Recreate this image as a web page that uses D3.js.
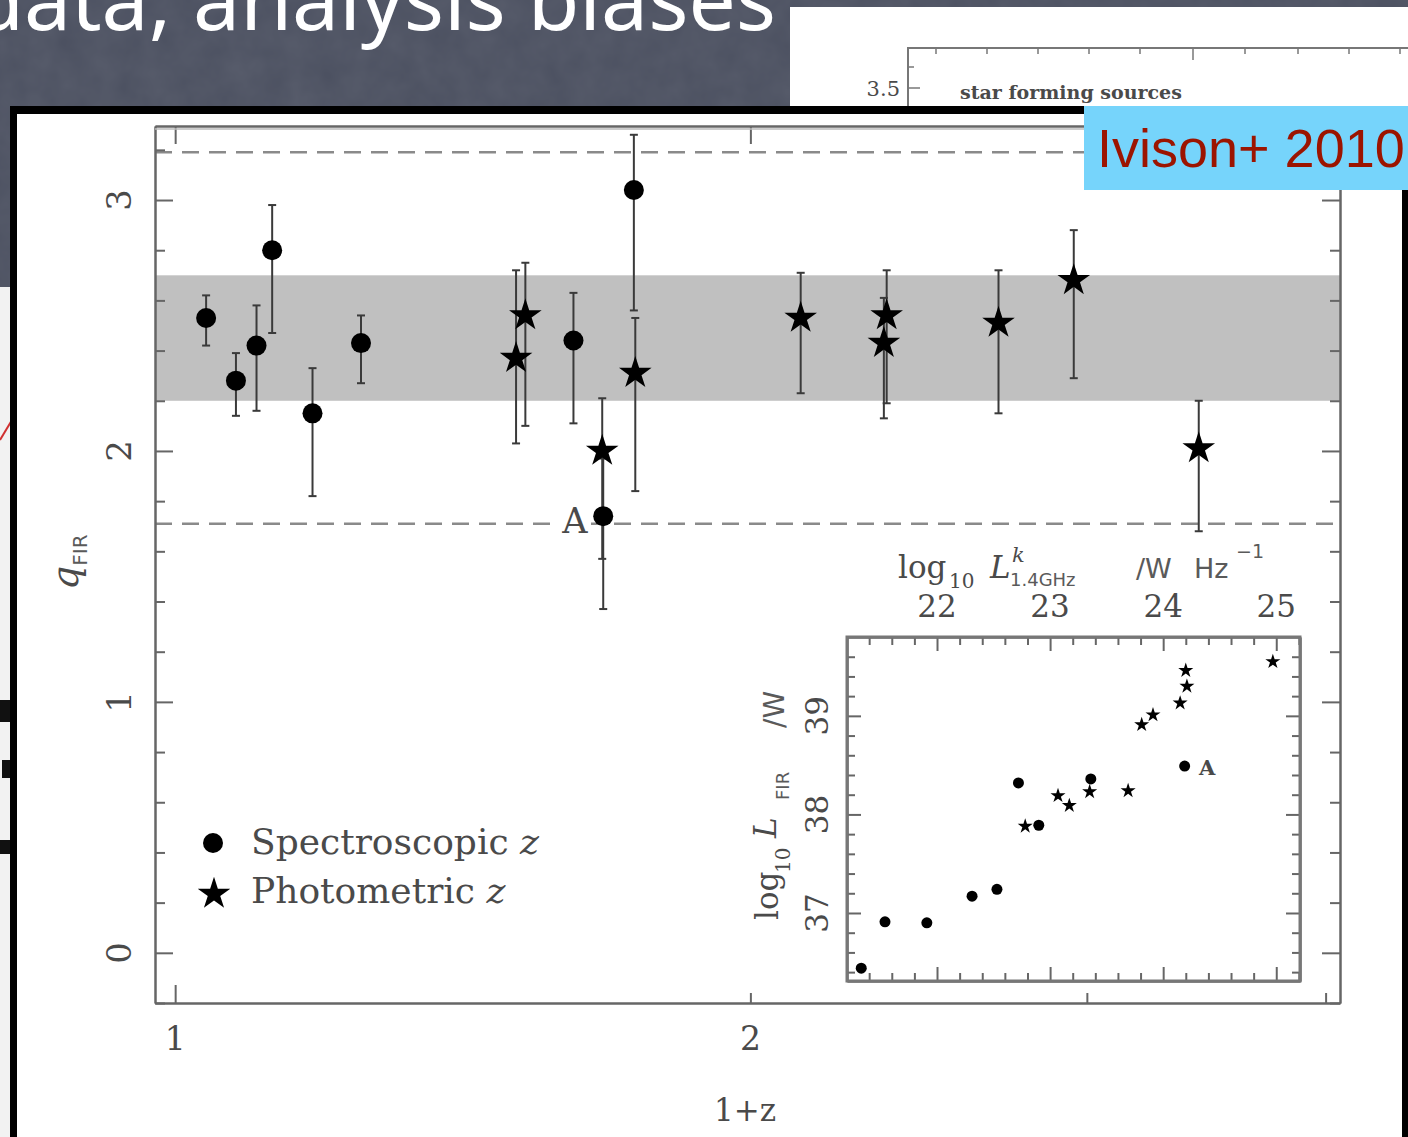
<!DOCTYPE html>
<html lang="en">
<head>
  <meta charset="UTF-8">
  <title>q_FIR vs 1+z (Ivison+ 2010)</title>
  <script src="https://d3js.org/d3.v7.min.js"></script>
  <style>
    body { margin: 0; background: #4b5060; }
    svg { display: block; }
    .serif { font-family: "DejaVu Serif", "Liberation Serif", serif; fill: #4a4a4a; }
    .sans { font-family: "DejaVu Sans", "Liberation Sans", sans-serif; fill: #5a5a5a; }
    .axis path, .axis line { stroke-width: 2; }
  </style>
</head>
<body>
  <svg id="chart" width="1408" height="1137"></svg>
  <script>
    // main panel: spectroscopic redshifts (circles)
    const specZ  = [1.038, 1.076, 1.103, 1.124, 1.180, 1.251, 1.616, 1.675, 1.738];
    const specQ  = [2.53, 2.28, 2.42, 2.80, 2.15, 2.43, 2.44, 1.74, 3.04];
    const specLo = [2.42, 2.14, 2.16, 2.47, 1.82, 2.27, 2.11, 1.37, 2.56];
    const specHi = [2.62, 2.39, 2.58, 2.98, 2.33, 2.54, 2.63, 1.97, 3.26];

    // main panel: photometric redshifts (stars)
    const photZ  = [1.508, 1.525, 1.673, 1.741, 2.125, 2.349, 2.357, 2.697, 2.953, 3.433];
    const photQ  = [2.37, 2.54, 2.00, 2.31, 2.53, 2.43, 2.54, 2.51, 2.68, 2.01];
    const photLo = [2.03, 2.10, 1.57, 1.84, 2.23, 2.13, 2.19, 2.15, 2.29, 1.68];
    const photHi = [2.72, 2.75, 2.21, 2.53, 2.71, 2.61, 2.72, 2.72, 2.88, 2.20];

    // reference lines and band
    const dashLevels = [3.19, 1.71];
    const bandRange = [2.2, 2.7];

    // inset: log L_1.4GHz vs log L_FIR
    const insSpecL = [21.33, 21.54, 21.91, 22.31, 22.53, 22.72, 22.90, 23.36, 24.19];
    const insSpecF = [36.44, 36.91, 36.90, 37.17, 37.24, 38.32, 37.89, 38.36, 38.49];
    const insPhotL = [22.78, 23.07, 23.17, 23.35, 23.69, 23.81, 23.91, 24.15, 24.21, 24.20, 24.97];
    const insPhotF = [37.88, 38.19, 38.09, 38.23, 38.24, 38.91, 39.01, 39.13, 39.30, 39.46, 39.55];

    // tick labels
    const mainXLabels = [1, 2];
    const mainYLabels = [0, 1, 2, 3];
    const insXLabels = [22, 23, 24, 25];
    const insYLabels = [37, 38, 39];

    const svg = d3.select("#chart");

    // ---- slide background ----
    const defs = svg.append("defs");
    const f = defs.append("filter").attr("id", "grain");
    f.append("feTurbulence").attr("type", "fractalNoise").attr("baseFrequency", 0.035).attr("numOctaves", 3).attr("result", "n");
    f.append("feColorMatrix").attr("type", "matrix")
      .attr("values", "0 0 0 0 1  0 0 0 0 1  0 0 0 0 1  0 0 0 0.07 0");
    svg.append("rect").attr("width", 1408).attr("height", 1137).attr("fill", "#4b5060");
    svg.append("rect").attr("width", 1408).attr("height", 1137).attr("filter", "url(#grain)");

    svg.append("text")
      .attr("x", 776).attr("y", 30)
      .attr("text-anchor", "end")
      .style("font-family", "'Noto Sans', sans-serif")
      .style("font-size", "84px")
      .attr("fill", "#ffffff")
      .text("data, analysis biases");

    // figure peeking behind, top right
    svg.append("rect").attr("x", 790).attr("y", 7).attr("width", 618).attr("height", 100).attr("fill", "#ffffff");
    svg.append("path").attr("d", "M908,107V48H1408").attr("fill", "none").attr("stroke", "#777").attr("stroke-width", 2);
    [936, 987, 1038, 1089, 1140, 1193, 1245, 1298, 1349, 1400].forEach((x, i) => {
      svg.append("line").attr("x1", x).attr("x2", x).attr("y1", 48).attr("y2", i === 5 ? 60 : 54)
        .attr("stroke", "#777").attr("stroke-width", 1.5);
    });
    svg.append("line").attr("x1", 908).attr("x2", 920).attr("y1", 88).attr("y2", 88).attr("stroke", "#777").attr("stroke-width", 1.5);
    svg.append("line").attr("x1", 908).attr("x2", 914).attr("y1", 67).attr("y2", 67).attr("stroke", "#777").attr("stroke-width", 1.5);
    svg.append("text").attr("class", "serif").attr("x", 900).attr("y", 96).attr("text-anchor", "end")
      .style("font-size", "21px").text("3.5");
    svg.append("text").attr("class", "serif").attr("x", 960).attr("y", 99)
      .style("font-size", "19px").style("font-weight", "bold").text("star forming sources");

    // strip of another figure at far left
    svg.append("rect").attr("x", 0).attr("y", 287).attr("width", 12).attr("height", 850).attr("fill", "#f2f2f2");
    svg.append("path").attr("d", "M0,440L12,420").attr("stroke", "#d03030").attr("stroke-width", 2);
    [[0, 700, 10, 22], [2, 760, 8, 18], [0, 840, 10, 14]].forEach(r => {
      svg.append("rect").attr("x", r[0]).attr("y", r[1]).attr("width", r[2]).attr("height", r[3]).attr("fill", "#111");
    });

    // ---- main figure panel ----
    svg.append("rect").attr("x", 10).attr("y", 106).attr("width", 1398).attr("height", 1031).attr("fill", "#000");
    svg.append("rect").attr("x", 17).attr("y", 114).attr("width", 1385).attr("height", 1023).attr("fill", "#ffffff");

    const x = d3.scaleLog().domain([0.976, 4.07]).range([155, 1340]);
    const y = d3.scaleLinear().domain([-0.2, 3.295]).range([1003, 126]);

    // band
    svg.append("rect")
      .attr("x", x.range()[0]).attr("width", x.range()[1] - x.range()[0])
      .attr("y", y(bandRange[1])).attr("height", y(bandRange[0]) - y(bandRange[1]))
      .attr("fill", "#c0c0c0");

    // dashed lines
    svg.selectAll(".dash").data(dashLevels).enter().append("line")
      .attr("x1", x.range()[0]).attr("x2", x.range()[1])
      .attr("y1", d => y(d)).attr("y2", d => y(d))
      .attr("stroke", "#8a8a8a").attr("stroke-width", 2.5).attr("stroke-dasharray", "17,10");

    // axes
    const minorY = d3.range(-0.2, 3.3, 0.2).filter(v => Math.abs(v - Math.round(v)) > 0.01);
    function axisG(tr) {
      return svg.append("g").attr("class", "axis").attr("transform", tr).attr("color", "#666");
    }
    axisG("translate(155,0)").call(d3.axisLeft(y).tickValues(mainYLabels).tickSize(-18).tickSizeOuter(0).tickFormat(""));
    axisG("translate(155,0)").call(d3.axisLeft(y).tickValues(minorY).tickSize(-10).tickSizeOuter(0).tickFormat(""));
    axisG("translate(1340,0)").call(d3.axisRight(y).tickValues(mainYLabels).tickSize(-18).tickSizeOuter(0).tickFormat(""));
    axisG("translate(1340,0)").call(d3.axisRight(y).tickValues(minorY).tickSize(-10).tickSizeOuter(0).tickFormat(""));
    axisG("translate(0,126)").call(d3.axisTop(x).tickValues([1, 2]).tickSize(-18).tickSizeOuter(0).tickFormat(""));
    axisG("translate(0,126)").call(d3.axisTop(x).tickValues([3, 4]).tickSize(-10).tickSizeOuter(0).tickFormat(""));
    axisG("translate(0,1003)").call(d3.axisBottom(x).tickValues([1]).tickSize(-18).tickSizeOuter(0).tickFormat(""));
    axisG("translate(0,1003)").call(d3.axisBottom(x).tickValues([2, 3, 4]).tickSize(-10).tickSizeOuter(0).tickFormat(""));
    svg.selectAll(".axis .domain").attr("stroke", "#666");
    svg.append("line").attr("x1", 155).attr("x2", 1340).attr("y1", 129).attr("y2", 129)
      .attr("stroke", "#bbb").attr("stroke-width", 1.5);

    // tick labels
    svg.selectAll(".xlab").data(mainXLabels).enter().append("text")
      .attr("class", "serif").attr("x", d => x(d)).attr("y", 1050)
      .attr("text-anchor", "middle").style("font-size", "33px").text(d => d);
    svg.selectAll(".ylab").data(mainYLabels).enter().append("text")
      .attr("class", "serif")
      .attr("transform", d => `translate(131,${y(d)}) rotate(-90)`)
      .attr("text-anchor", "middle").style("font-size", "34px").text(d => d);

    // axis titles
    svg.append("text").attr("class", "serif").attr("x", 745).attr("y", 1121)
      .attr("text-anchor", "middle").style("font-size", "31px").text("1+z");
    const qt = svg.append("text").attr("transform", "translate(78,590) rotate(-90)");
    qt.append("tspan").attr("class", "serif").style("font-style", "italic").style("font-size", "38px").text("q");
    qt.append("tspan").attr("class", "sans").attr("dy", 9).style("font-size", "20px").text("FIR");

    // error bars
    function errBars(xs, lo, hi) {
      const g = svg.append("g").attr("stroke", "#3a3a3a").attr("stroke-width", 2);
      xs.forEach((z, i) => {
        const cx = x(z);
        g.append("line").attr("x1", cx).attr("x2", cx).attr("y1", y(hi[i])).attr("y2", y(lo[i]));
        [lo[i], hi[i]].forEach(v => g.append("line").attr("x1", cx - 4).attr("x2", cx + 4).attr("y1", y(v)).attr("y2", y(v)));
      });
    }
    errBars(specZ, specLo, specHi);
    errBars(photZ, photLo, photHi);

    // "A" label on the lower dashed line
    svg.append("rect").attr("x", 559).attr("y", 502).attr("width", 32).attr("height", 34).attr("fill", "#fff");
    svg.append("text").attr("class", "serif").attr("x", 575).attr("y", 533)
      .attr("text-anchor", "middle").style("font-size", "35px").attr("fill", "#777").text("A");

    // markers
    svg.selectAll(".spec").data(specZ).enter().append("circle")
      .attr("cx", d => x(d)).attr("cy", (d, i) => y(specQ[i])).attr("r", 10).attr("fill", "#000");
    const starBig = d3.symbol(d3.symbolStar, 330);
    svg.selectAll(".phot").data(photZ).enter().append("path")
      .attr("d", starBig)
      .attr("transform", (d, i) => `translate(${x(d)},${y(photQ[i])})`)
      .attr("fill", "#000");

    // legend
    svg.append("circle").attr("cx", 213).attr("cy", 843).attr("r", 10).attr("fill", "#000");
    svg.append("path").attr("d", starBig).attr("transform", "translate(214,894)").attr("fill", "#000");
    const l1 = svg.append("text").attr("class", "serif").attr("x", 251).attr("y", 854).style("font-size", "36px");
    l1.append("tspan").text("Spectroscopic ");
    l1.append("tspan").style("font-style", "italic").text("z");
    const l2 = svg.append("text").attr("class", "serif").attr("x", 251).attr("y", 903).style("font-size", "36px");
    l2.append("tspan").text("Photometric ");
    l2.append("tspan").style("font-style", "italic").text("z");

    // ---- inset ----
    const ix = d3.scaleLinear().domain([21.204, 25.21]).range([847, 1300]);
    const iy = d3.scaleLinear().domain([36.31, 39.80]).range([981, 637]);

    svg.append("rect").attr("x", 847).attr("y", 637).attr("width", 453).attr("height", 344)
      .attr("fill", "#fff");
    const minorIX = d3.range(21.4, 25.21, 0.2).filter(v => Math.abs(v - Math.round(v)) > 0.01);
    const minorIY = d3.range(36.4, 39.8, 0.2).filter(v => Math.abs(v - Math.round(v)) > 0.01);
    axisG("translate(0,637)").call(d3.axisTop(ix).tickValues(insXLabels).tickSize(-14).tickSizeOuter(0).tickFormat(""));
    axisG("translate(0,637)").call(d3.axisTop(ix).tickValues(minorIX).tickSize(-8).tickSizeOuter(0).tickFormat(""));
    axisG("translate(0,981)").call(d3.axisBottom(ix).tickValues(insXLabels).tickSize(-14).tickSizeOuter(0).tickFormat(""));
    axisG("translate(0,981)").call(d3.axisBottom(ix).tickValues(minorIX).tickSize(-8).tickSizeOuter(0).tickFormat(""));
    axisG("translate(847,0)").call(d3.axisLeft(iy).tickValues(insYLabels).tickSize(-14).tickSizeOuter(0).tickFormat(""));
    axisG("translate(847,0)").call(d3.axisLeft(iy).tickValues(minorIY).tickSize(-8).tickSizeOuter(0).tickFormat(""));
    axisG("translate(1300,0)").call(d3.axisRight(iy).tickValues(insYLabels).tickSize(-14).tickSizeOuter(0).tickFormat(""));
    axisG("translate(1300,0)").call(d3.axisRight(iy).tickValues(minorIY).tickSize(-8).tickSizeOuter(0).tickFormat(""));
    svg.selectAll(".axis .domain").attr("stroke", "#666");
    svg.append("rect").attr("x", 847).attr("y", 637).attr("width", 453).attr("height", 344)
      .attr("fill", "none").attr("stroke", "#777").attr("stroke-width", 3);

    svg.selectAll(".ixlab").data(insXLabels).enter().append("text")
      .attr("class", "serif").attr("x", d => ix(d)).attr("y", 617)
      .attr("text-anchor", "middle").style("font-size", "31px").text(d => d);
    svg.selectAll(".iylab").data(insYLabels).enter().append("text")
      .attr("class", "serif")
      .attr("transform", d => `translate(828,${iy(d)}) rotate(-90)`)
      .attr("text-anchor", "middle").style("font-size", "31px").text(d => d);

    // inset top title
    svg.append("text").attr("class", "serif").attr("x", 898).attr("y", 578).style("font-size", "31px").text("log");
    svg.append("text").attr("class", "serif").attr("x", 949).attr("y", 588).style("font-size", "20px").text("10");
    svg.append("text").attr("class", "serif").attr("x", 990).attr("y", 578).style("font-size", "31px").style("font-style", "italic").text("L");
    svg.append("text").attr("class", "serif").attr("x", 1012).attr("y", 562).style("font-size", "21px").style("font-style", "italic").text("k");
    svg.append("text").attr("class", "sans").attr("x", 1010).attr("y", 586).style("font-size", "18px").text("1.4GHz");
    svg.append("text").attr("class", "sans").attr("x", 1136).attr("y", 578).style("font-size", "27px").text("/W");
    svg.append("text").attr("class", "sans").attr("x", 1194).attr("y", 578).style("font-size", "27px").text("Hz");
    svg.append("text").attr("class", "sans").attr("x", 1236).attr("y", 558).style("font-size", "19px").text("−1");

    // inset y title (rotated)
    const yt = svg.append("g").attr("transform", "rotate(-90)");
    yt.append("text").attr("class", "serif").attr("x", -920).attr("y", 778).style("font-size", "31px").text("log");
    yt.append("text").attr("class", "serif").attr("x", -873).attr("y", 790).style("font-size", "20px").text("10");
    yt.append("text").attr("class", "serif").attr("x", -838).attr("y", 776).style("font-size", "31px").style("font-style", "italic").text("L");
    yt.append("text").attr("class", "sans").attr("x", -800).attr("y", 789).style("font-size", "18px").text("FIR");
    yt.append("text").attr("class", "sans").attr("x", -728).attr("y", 784).style("font-size", "28px").text("/W");

    // inset markers
    svg.selectAll(".ispec").data(insSpecL).enter().append("circle")
      .attr("cx", d => ix(d)).attr("cy", (d, i) => iy(insSpecF[i])).attr("r", 5.5).attr("fill", "#000");
    const starSmall = d3.symbol(d3.symbolStar, 70);
    svg.selectAll(".iphot").data(insPhotL).enter().append("path")
      .attr("d", starSmall)
      .attr("transform", (d, i) => `translate(${ix(d)},${iy(insPhotF[i])})`)
      .attr("fill", "#000");
    svg.append("text").attr("class", "serif").attr("x", 1199).attr("y", 775)
      .style("font-size", "21px").style("font-weight", "bold").attr("fill", "#111").text("A");

    // citation tag
    svg.append("rect").attr("x", 1084).attr("y", 106).attr("width", 324).attr("height", 84).attr("fill", "#76d4fb");
    svg.append("text").attr("x", 1097).attr("y", 167)
      .style("font-family", "'Liberation Sans', Arial, sans-serif").style("font-size", "54px")
      .attr("fill", "#9c1400").text("Ivison+ 2010");
  </script>
</body>
</html>
